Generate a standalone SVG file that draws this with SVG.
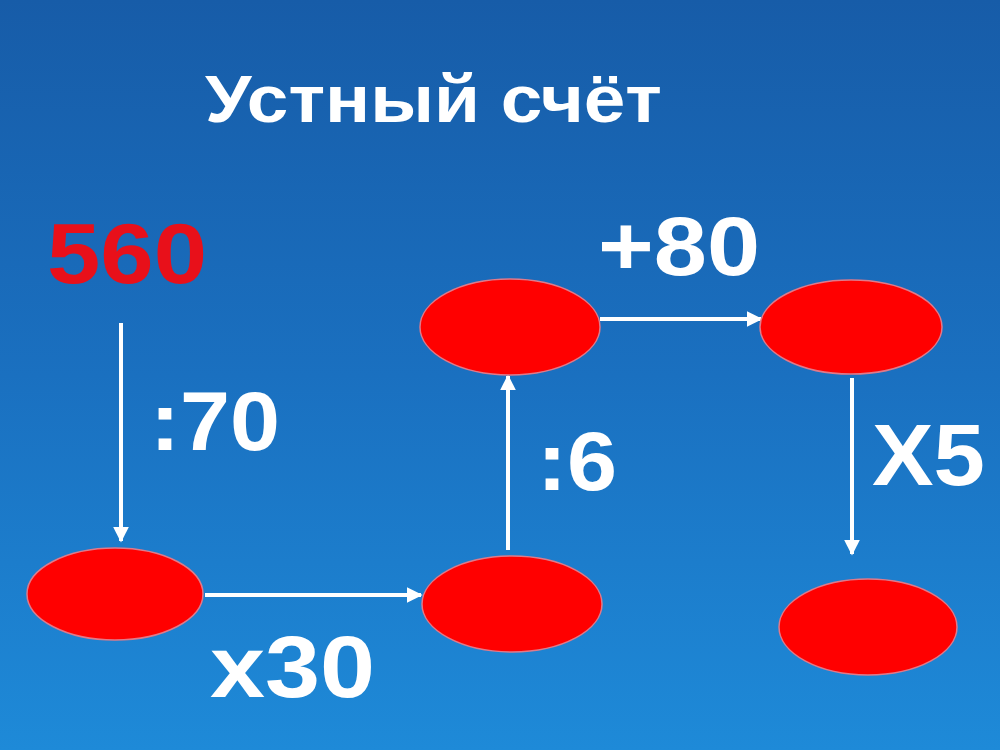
<svg xmlns="http://www.w3.org/2000/svg" width="1000" height="750" viewBox="0 0 1000 750">
<defs>
<linearGradient id="bg" x1="0" y1="0" x2="0" y2="1">
<stop offset="0" stop-color="#175ca8"/>
<stop offset="0.5" stop-color="#1a70c0"/>
<stop offset="1" stop-color="#1e8ad8"/>
</linearGradient>
<marker id="ah" viewBox="0 0 10 10" refX="9" refY="5" markerWidth="4" markerHeight="4" markerUnits="strokeWidth" orient="auto">
<path d="M0,0 L10,5 L0,10 Z" fill="#ffffff"/>
</marker>
<style>
.n{fill:#ff0000;stroke:#e07a8a;stroke-width:1.5}
.c{stroke:#ffffff;stroke-width:4;fill:none;marker-end:url(#ah)}
.t{font-family:"Liberation Sans",Arial,sans-serif;font-weight:bold;fill:#ffffff}
</style>
</defs>
<rect width="1000" height="750" fill="url(#bg)"/>
<text class="t" x="205" y="122" font-size="66" textLength="457" lengthAdjust="spacingAndGlyphs">Устный счёт</text>
<text class="t" x="47" y="283" font-size="86" fill="#e8101a" style="fill:#e8101a" textLength="160" lengthAdjust="spacingAndGlyphs">560</text>
<g id="connectors">
<line class="c" x1="121" y1="323" x2="121" y2="541"/>
<line class="c" x1="205" y1="595" x2="421" y2="595"/>
<line class="c" x1="508" y1="550" x2="508" y2="376"/>
<line class="c" x1="600" y1="319" x2="761" y2="319"/>
<line class="c" x1="852" y1="378" x2="852" y2="554"/>
</g>
<g id="n1"><ellipse class="n" cx="115" cy="594" rx="88" ry="46"/></g>
<g id="n2"><ellipse class="n" cx="512" cy="604" rx="90" ry="48"/></g>
<g id="n3"><ellipse class="n" cx="510" cy="327" rx="90" ry="48"/></g>
<g id="n4"><ellipse class="n" cx="851" cy="327" rx="91" ry="47"/></g>
<g id="n5"><ellipse class="n" cx="868" cy="627" rx="89" ry="48"/></g>
<text class="t" x="150" y="450" font-size="84" textLength="130" lengthAdjust="spacingAndGlyphs">:70</text>
<text class="t" x="537" y="490" font-size="84" textLength="80" lengthAdjust="spacingAndGlyphs">:6</text>
<text class="t" x="598" y="275" font-size="84" textLength="162" lengthAdjust="spacingAndGlyphs">+80</text>
<text class="t" x="872" y="485" font-size="88" textLength="113" lengthAdjust="spacingAndGlyphs">X5</text>
<text class="t" x="210" y="697" font-size="88" textLength="165" lengthAdjust="spacingAndGlyphs">x30</text>
</svg>
